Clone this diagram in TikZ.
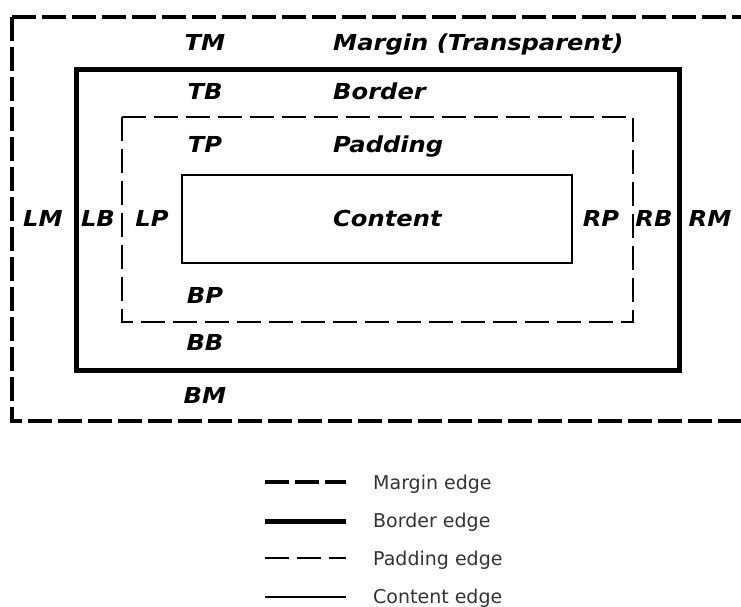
\documentclass[tikz,border=0pt]{standalone}
\usepackage{fontspec}
\setmainfont{DejaVu Sans}
\newfontfamily\boxfont[FakeStretch=1.1]{DejaVu Sans}

\begin{document}
\begin{tikzpicture}[x=1pt,y=-1pt,
    lbl/.style={font=\boxfont\fontsize{22}{26}\selectfont\bfseries\itshape,inner sep=0pt,anchor=base},
    lblw/.style={lbl,anchor=base west},
    lgd/.style={font=\fontsize{19}{22}\selectfont,text=black!80,inner sep=0pt,anchor=base west},
    marginedge/.style={line width=4.5pt,dash pattern=on 24pt off 6pt},
    borderedge/.style={line width=5pt},
    paddingedge/.style={line width=1.4pt,dash pattern=on 24pt off 8pt},
    contentedge/.style={line width=1.4pt}]
      \clip (0,0) rectangle (741,607);

      % boxes
      \draw[marginedge] (12,17) rectangle (790,421);
      \draw[borderedge] (76,70) rectangle (679,370);
      \draw[paddingedge] (122,117) rectangle (633,322);
      \draw[contentedge] (182,175) rectangle (572,263);

      % labels
      \node[lbl](TM) at (205,51) {TM};
      \node[lblw](margin) at (333,51) {Margin (Transparent)};
      \node[lbl](TB) at (205,100) {TB};
      \node[lblw](border) at (333,100) {Border};
      \node[lbl](TP) at (205,153) {TP};
      \node[lblw](padding) at (333,153) {Padding};
      \node[lbl](LM) at (43,226) {LM};
      \node[lbl](LB) at (98,226) {LB};
      \node[lbl](LP) at (152,226) {LP};
      \node[lblw](content) at (333,226) {Content};
      \node[lbl](RP) at (601,226) {RP};
      \node[lbl](RB) at (654,226) {RB};
      \node[lbl](RM) at (710,226) {RM};
      \node[lbl](BP) at (205,303) {BP};
      \node[lbl](BB) at (205,350) {BB};
      \node[lbl](BM) at (205,403) {BM};

      % legend
      \coordinate (m0) at (265,482);
      \coordinate (m1) at (346,482);
      \coordinate (b0) at (265,521);
      \coordinate (b1) at (346,521);
      \coordinate (p0) at (265,558);
      \coordinate (p1) at (346,558);
      \coordinate (c0) at (265,597);
      \coordinate (c1) at (346,597);
      \draw[marginedge] (m0) -- (m1);
      \draw[borderedge] (b0) -- (b1);
      \draw[paddingedge] (p0) -- (p1);
      \draw[contentedge] (c0) -- (c1);
      \node[lgd](lm) at (373,489) {Margin edge};
      \node[lgd](lb) at (373,527) {Border edge};
      \node[lgd](lp) at (373,565) {Padding edge};
      \node[lgd](lc) at (373,603) {Content edge};
\end{tikzpicture}
\end{document}
